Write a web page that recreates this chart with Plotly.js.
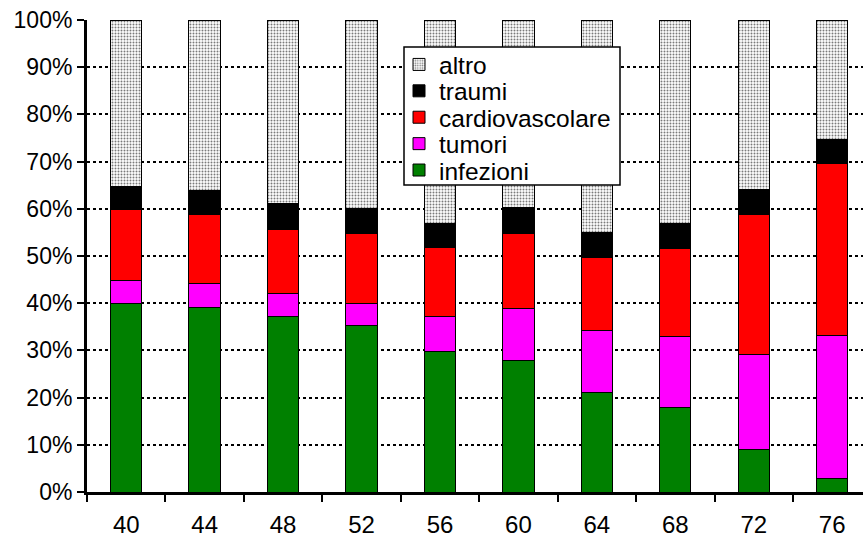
<!DOCTYPE html>
<html>
<head>
<meta charset="utf-8">
<script src="https://cdn.plot.ly/plotly-3.0.1.min.js"></script>
<style>
html,body{margin:0;padding:0;background:#fff;overflow:hidden;}
#chart{width:863px;height:539px;}
</style>
</head>
<body>
<div id="chart"></div>
<script>
const categories = ["40","44","48","52","56","60","64","68","72","76"];
const infezioni = [40.0, 39.1, 37.1, 35.2, 29.7, 27.9, 21.1, 17.8, 9.0, 2.9];
const tumori = [4.9, 5.1, 4.9, 4.8, 7.4, 11.0, 13.1, 15.1, 20.2, 30.3];
const cardiovascolare = [14.9, 14.5, 13.7, 14.8, 14.7, 15.9, 15.5, 18.7, 29.6, 36.4];
const traumi = [4.9, 5.2, 5.4, 5.3, 5.1, 5.4, 5.2, 5.3, 5.2, 5.0];
const altro = [35.3, 36.1, 38.9, 39.9, 43.1, 39.8, 45.1, 43.1, 36.0, 25.4];
const yTickVals = [0,10,20,30,40,50,60,70,80,90,100];
const yTickText = ["0%","10%","20%","30%","40%","50%","60%","70%","80%","90%","100%"];

const FONT = "Liberation Sans, Arial, sans-serif";
const edge = {color:"#000", width:1};

// plot-area geometry in pixels, used to place the legend entries
const W = 863, H = 539, ML = 87, MR = 0, MT = 20, MB = 47;
const px2x = p => (p - ML) / (W - ML - MR);
const py2y = p => (H - MB - p) / (H - MT - MB);

function bar(name, vals, color, legendId, pattern){
  const m = {color: color, line: edge};
  if (pattern) m.pattern = pattern;
  return {type:"bar", name:name, x:categories, y:vals, marker:m, legend:legendId,
          hovertemplate:"%{x}: %{y}%<extra>"+name+"</extra>"};
}

const data = [
  bar("infezioni", infezioni, "#008000", "legend5"),
  bar("tumori", tumori, "#FF00FF", "legend4"),
  bar("cardiovascolare", cardiovascolare, "#FF0000", "legend3"),
  bar("traumi", traumi, "#000000", "legend2"),
  bar("altro", altro, "#ffffff", "legend", {shape:".", fgcolor:"#7a7a7a", bgcolor:"#ffffff", size:3, solidity:0.33})
];

function legendAt(centerPy){
  return {
    x: px2x(399), y: py2y(centerPy), xanchor:"left", yanchor:"middle",
    bgcolor:"rgba(0,0,0,0)", borderwidth:0,
    font:{family:FONT, size:24.5, color:"#000"}
  };
}

const layout = {
  width:W, height:H,
  margin:{l:ML, r:MR, t:MT, b:MB, pad:0},
  paper_bgcolor:"#fff", plot_bgcolor:"#fff",
  font:{family:FONT, size:24, color:"#000"},
  barmode:"stack",
  bargap:0.6,
  showlegend:true,
  legend: legendAt(64.5),
  legend2: legendAt(90.9),
  legend3: legendAt(117.3),
  legend4: legendAt(143.7),
  legend5: legendAt(170.1),
  shapes:[{
    type:"rect", xref:"paper", yref:"paper", layer:"above",
    x0:px2x(404), x1:px2x(620), y0:py2y(185), y1:py2y(47),
    fillcolor:"#fff", line:{color:"#000", width:1.5}
  }],
  xaxis:{
    type:"category",
    range:[-0.5, 9.393],
    showgrid:false, zeroline:false,
    showline:true, linecolor:"#000", linewidth:3,
    ticks:"outside", tickson:"boundaries", ticklen:7, tickwidth:2, tickcolor:"#000",
    ticklabelstandoff:9,
    tickfont:{family:FONT, size:24, color:"#000"}
  },
  yaxis:{
    range:[0,100], autorange:false,
    tickvals:yTickVals, ticktext:yTickText,
    showgrid:true, gridcolor:"#000", gridwidth:2, griddash:"3px,3px",
    zeroline:false,
    showline:true, linecolor:"#000", linewidth:3,
    ticks:"outside", ticklen:7, tickwidth:2, tickcolor:"#000",
    tickfont:{family:FONT, size:23, color:"#000"}
  }
};

Plotly.newPlot("chart", data, layout, {displayModeBar:false, staticPlot:true});
</script>
</body>
</html>
